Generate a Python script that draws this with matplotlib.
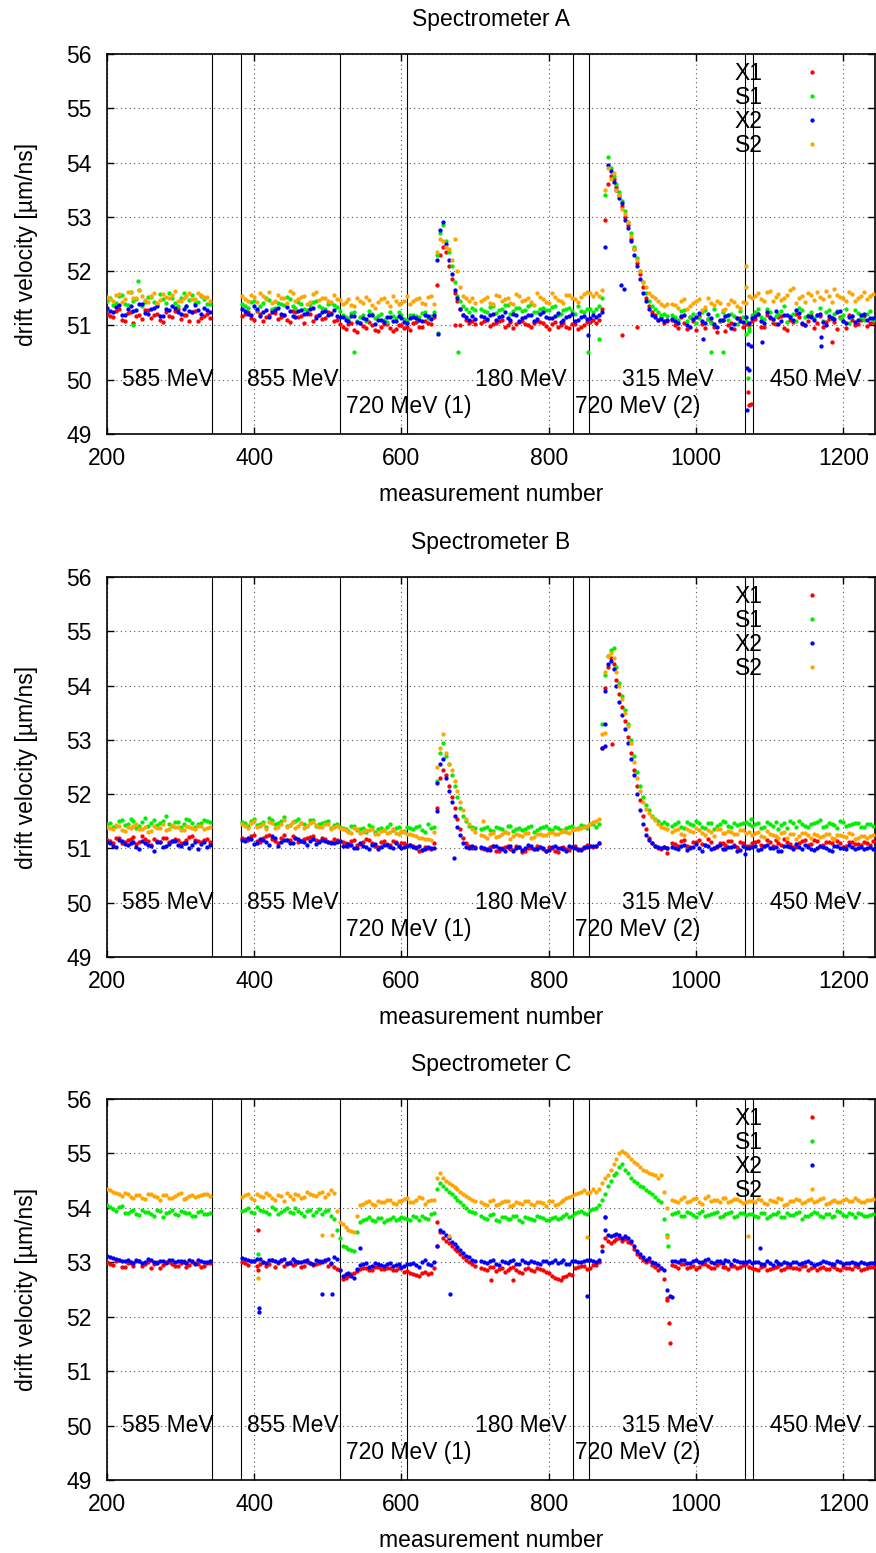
import numpy as np
import matplotlib
matplotlib.use("Agg")
import matplotlib.pyplot as plt

plt.rcParams['font.family'] = ['Liberation Sans', 'DejaVu Sans']

SERIES = ["X1", "S1", "X2", "S2"]
COLORS = ["#ff0000", "#00ee00", "#0000ff", "#ffa500"]
TITLES = ["Spectrometer A", "Spectrometer B", "Spectrometer C"]
# measurement-number segments: start and spacing of the sampled points
SEG_START = [200, 384, 644, 708, 864, 968]
SEG_STEP = [8, 8, 4, 8, 4, 8]
# in-between samples of the flat segments
MID_START = [204, 388, 712, 972]
MID_STEP = 8
BOUNDARIES = [342, 382, 516, 608, 833, 855, 1067, 1077]
BEAM_LABELS = ["585 MeV", "855 MeV", "720 MeV (1)", "180 MeV", "720 MeV (2)", "315 MeV", "450 MeV"]
BEAM_LABEL_X = [220, 390, 525, 700, 836, 900, 1100]
BEAM_LABEL_Y = [50, 50, 49.5, 50, 49.5, 50, 50]
X_TICKS = [200, 400, 600, 800, 1000, 1200]
Y_TICKS = [49, 50, 51, 52, 53, 54, 55, 56]

# ---------------- Spectrometer A ----------------
A_X1 = [
    [51.22, 51.15, 51.30, 51.08, 51.25, 51.18, 51.12, 51.28, 51.20, 51.10, 51.24, 51.16, 51.31, 51.19, 51.09, 51.26, 51.14, 51.21],
    [51.18, 51.25, 51.10, 51.22, 51.15, 51.28, 51.12, 51.20, 51.06, 51.24, 51.17, 51.21, 51.09, 51.19, 51.14, 51.23, 51.11,
     50.98, 51.02, 50.92, 51.05, 50.95, 51.00, 50.90, 51.03, 50.96, 50.93, 51.01, 50.97, 51.05, 50.98, 51.08, 51.02],
    [51.15, 51.75, 52.30, 52.45, 52.35, 52.10, 51.85, 51.60, 51.45, 51.30, 51.20, 51.10, 51.05, 51.08, 51.02],
    [51.05, 51.10, 51.02, 51.08, 50.98, 51.06, 51.03, 51.09, 51.00, 51.04, 51.07, 50.99, 51.03, 50.97, 51.05, 50.95, 51.02, 50.98, 51.06, 51.10],
    [51.05, 51.10, 51.30, 52.95, 53.60, 53.75, 53.70, 53.55, 53.40, 53.20, 53.00, 52.85, 52.60, 52.40, 52.15, 51.95, 51.70, 51.50, 51.35, 51.25, 51.20, 51.10, 51.15, 51.05, 51.08],
    [51.10, 50.95, 51.05, 51.15, 50.92, 51.02, 51.12, 50.98, 51.08, 50.90, 51.04, 51.13, 50.97, 51.00,
     51.12, 50.98, 51.20, 51.05, 51.15, 50.95, 51.10, 51.22, 51.02, 51.08, 50.96, 51.18, 51.06, 51.14, 50.93, 51.09, 51.19, 51.01, 51.11, 50.99, 51.07],
]
A_X1_MID = [
    [51.18, 51.27, 51.11, 51.23, 51.05, 51.19, 51.29, 51.14, 51.22, 51.07, 51.17, 51.26, 51.12, 51.20, 51.24, 51.08, 51.18, 51.13],
    [51.21, 51.13, 51.26, 51.08, 51.19, 51.23, 51.15, 51.10, 51.27, 51.16, 51.05, 51.22, 51.18, 51.12, 51.25, 51.09, 51.02,
     50.94, 51.04, 50.88, 50.99, 51.06, 50.91, 50.97, 51.03, 50.89, 51.00, 50.95, 50.92, 51.06, 50.97, 51.04],
    [51.08, 50.99, 51.05, 51.11, 51.01, 50.96, 51.07, 51.02, 50.98, 51.09, 51.04, 50.94, 51.06, 51.00, 50.97, 51.03, 50.93, 51.01, 51.07],
    [51.00, 51.16, 50.93, 51.09, 51.18, 50.96, 51.06, 50.88, 51.11, 51.01, 50.94, 51.14, 51.03,
     51.08, 51.21, 50.97, 51.13, 51.03, 51.17, 50.91, 51.06, 51.15, 51.00, 51.20, 51.04, 50.98, 51.12, 51.07, 51.16, 50.95, 51.10, 51.02, 51.18, 51.05],
]
A_S1 = [
    [51.45, 51.38, 51.55, 51.40, 51.62, 51.48, 51.35, 51.52, 51.44, 51.58, 51.41, 51.50, 51.36, 51.60, 51.47, 51.42, 51.55, 51.39],
    [51.40, 51.32, 51.45, 51.35, 51.50, 51.30, 51.42, 51.37, 51.48, 51.33, 51.40, 51.28, 51.44, 51.36, 51.31, 51.41, 51.34,
     51.20, 51.12, 51.25, 51.15, 51.08, 51.22, 51.17, 51.10, 51.24, 51.14, 51.19, 51.11, 51.20, 51.15, 51.25, 51.18],
    [51.25, 52.30, 52.70, 52.85, 52.55, 52.35, 52.10, 51.80, 51.55, 51.45, 51.35, 51.30, 51.25, 51.32, 51.28],
    [51.30, 51.25, 51.35, 51.28, 51.38, 51.22, 51.32, 51.27, 51.36, 51.24, 51.31, 51.29, 51.34, 51.20, 51.28, 51.33, 51.22, 51.26, 51.30, 51.24],
    [51.30, 51.35, 51.50, 53.40, 54.10, 53.90, 53.75, 53.60, 53.45, 53.30, 53.10, 52.90, 52.70, 52.45, 52.25, 52.00, 51.80, 51.60, 51.45, 51.35, 51.30, 51.25, 51.20, 51.22, 51.18],
    [51.20, 51.10, 51.28, 51.15, 51.05, 51.25, 51.12, 51.30, 51.08, 51.18, 51.22, 51.02, 51.15, 50.95,
     51.25, 51.15, 51.30, 51.10, 51.22, 51.35, 51.18, 51.08, 51.28, 51.20, 51.14, 51.32, 51.24, 51.12, 51.26, 51.19, 51.05, 51.29, 51.16, 51.21, 51.10],
]
A_S1_MID = [
    [51.50, 51.41, 51.57, 51.37, 51.46, 51.65, 51.43, 51.53, 51.39, 51.48, 51.59, 51.42, 51.51, 51.36, 51.56, 51.44, 51.49, 51.40],
    [51.36, 51.44, 51.29, 51.41, 51.47, 51.33, 51.39, 51.52, 51.35, 51.43, 51.30, 51.38, 51.46, 51.32, 51.40, 51.37, 51.27,
     51.16, 51.23, 51.09, 51.19, 51.27, 51.13, 51.21, 51.06, 51.18, 51.24, 51.12, 51.20, 51.17, 51.23, 51.14],
    [51.27, 51.34, 51.23, 51.31, 51.37, 51.26, 51.33, 51.29, 51.39, 51.25, 51.32, 51.28, 51.35, 51.22, 51.30, 51.27, 51.36, 51.24, 51.31],
    [51.16, 51.26, 51.08, 51.21, 51.13, 51.29, 51.04, 51.19, 51.24, 51.11, 51.17, 51.27, 51.09,
     51.20, 51.31, 51.12, 51.24, 51.17, 51.27, 51.06, 51.22, 51.33, 51.15, 51.25, 51.19, 51.09, 51.28, 51.21, 51.14, 51.30, 51.18, 51.23, 51.11, 51.26],
]
A_X2 = [
    [51.32, 51.25, 51.38, 51.20, 51.35, 51.28, 51.40, 51.22, 51.33, 51.18, 51.30, 51.36, 51.24, 51.31, 51.27, 51.37, 51.21, 51.29],
    [51.30, 51.22, 51.35, 51.18, 51.28, 51.25, 51.32, 51.20, 51.27, 51.15, 51.29, 51.23, 51.33, 51.19, 51.26, 51.21, 51.17,
     51.15, 51.08, 51.18, 51.05, 51.12, 51.20, 51.10, 51.06, 51.16, 51.09, 51.13, 51.04, 51.15, 51.10, 51.20, 51.12],
    [51.20, 52.20, 52.75, 52.90, 52.50, 52.20, 51.95, 51.65, 51.50, 51.30, 51.20, 51.15, 51.10, 51.18, 51.12],
    [51.18, 51.12, 51.22, 51.15, 51.25, 51.10, 51.20, 51.14, 51.19, 51.08, 51.21, 51.16, 51.13, 51.23, 51.11, 51.17, 51.09, 51.15, 51.12, 51.20],
    [51.15, 51.20, 51.25, 52.45, 53.95, 53.85, 53.65, 53.50, 53.35, 53.25, 52.95, 52.80, 52.55, 52.30, 52.10, 51.85, 51.60, 51.45, 51.30, 51.20, 51.15, 51.10, 51.12, 51.08, 51.10],
    [51.12, 51.05, 51.20, 50.98, 51.15, 51.08, 51.22, 51.02, 51.10, 51.18, 50.95, 51.13, 51.06, 51.05,
     51.18, 51.08, 51.25, 51.12, 51.02, 51.20, 51.15, 51.28, 51.05, 51.17, 51.10, 51.22, 51.00, 51.14, 51.24, 51.09, 51.16, 51.06, 51.20, 51.11, 51.13],
]
A_X2_MID = [
    [51.27, 51.34, 51.19, 51.31, 51.26, 51.39, 51.23, 51.30, 51.35, 51.17, 51.28, 51.33, 51.22, 51.36, 51.25, 51.29, 51.32, 51.24],
    [51.26, 51.19, 51.31, 51.24, 51.16, 51.29, 51.22, 51.34, 51.18, 51.27, 51.21, 51.30, 51.14, 51.25, 51.20, 51.28, 51.16,
     51.10, 51.17, 51.07, 51.14, 51.19, 51.03, 51.11, 51.15, 51.08, 51.18, 51.06, 51.13, 51.14, 51.08, 51.17],
    [51.15, 51.20, 51.10, 51.17, 51.13, 51.22, 51.09, 51.16, 51.19, 51.12, 51.24, 51.14, 51.18, 51.07, 51.16, 51.21, 51.11, 51.18, 51.14],
    [51.09, 51.17, 51.01, 51.12, 51.23, 51.04, 51.14, 50.97, 51.11, 51.19, 51.03, 51.08, 51.16,
     51.13, 51.22, 51.04, 51.16, 51.26, 51.08, 51.19, 51.11, 51.23, 51.01, 51.15, 51.20, 51.07, 51.18, 51.12, 51.27, 51.05, 51.17, 51.10, 51.21, 51.14],
]
A_S2 = [
    [51.52, 51.45, 51.58, 51.48, 51.62, 51.50, 51.55, 51.44, 51.60, 51.47, 51.53, 51.57, 51.46, 51.51, 51.59, 51.49, 51.56, 51.52],
    [51.55, 51.45, 51.52, 51.60, 51.48, 51.42, 51.56, 51.50, 51.63, 51.46, 51.53, 51.40, 51.58, 51.47, 51.51, 51.44, 51.49,
     51.40, 51.48, 51.35, 51.45, 51.52, 51.38, 51.44, 51.50, 51.36, 51.46, 51.42, 51.55, 51.45, 51.50, 51.40, 51.55],
    [51.40, 52.35, 52.60, 52.55, 52.45, 52.40, 52.20, 52.60, 52.00, 51.70, 51.55, 51.50, 51.45, 51.50, 51.42],
    [51.45, 51.52, 51.40, 51.55, 51.48, 51.42, 51.58, 51.46, 51.50, 51.38, 51.53, 51.44, 51.60, 51.47, 51.41, 51.56, 51.49, 51.52, 51.62, 51.55],
    [51.60, 51.55, 51.65, 53.50, 53.90, 53.70, 53.80, 53.50, 53.40, 53.15, 53.05, 52.90, 52.65, 52.40, 52.20, 52.00, 51.80, 51.70, 51.60, 51.55, 51.50, 51.45, 51.40, 51.35, 51.40],
    [51.40, 51.32, 51.48, 51.36, 51.45, 51.28, 51.50, 51.38, 51.42, 51.30, 51.47, 51.35, 51.44, 51.55,
     51.55, 51.48, 51.62, 51.45, 51.58, 51.50, 51.66, 51.42, 51.55, 51.60, 51.47, 51.53, 51.64, 51.44, 51.57, 51.50, 51.61, 51.46, 51.54, 51.49, 51.58],
]
A_S2_MID = [
    [51.49, 51.56, 51.43, 51.61, 51.51, 51.65, 51.47, 51.54, 51.42, 51.58, 51.50, 51.63, 51.45, 51.55, 51.48, 51.60, 51.53, 51.46],
    [51.48, 51.57, 51.43, 51.54, 51.62, 51.46, 51.51, 51.41, 51.59, 51.49, 51.55, 51.44, 51.61, 51.50, 51.45, 51.56, 51.47,
     51.44, 51.37, 51.51, 51.41, 51.47, 51.33, 51.49, 51.43, 51.54, 51.39, 51.46, 51.40, 51.48, 51.42, 51.52],
    [51.49, 51.42, 51.56, 51.45, 51.51, 51.39, 51.54, 51.47, 51.43, 51.59, 51.48, 51.41, 51.52, 51.45, 51.57, 51.50, 51.44, 51.58, 51.60],
    [51.37, 51.45, 51.31, 51.42, 51.49, 51.34, 51.41, 51.46, 51.29, 51.39, 51.44, 51.33, 51.42,
     51.51, 51.59, 51.45, 51.63, 51.52, 51.47, 51.57, 51.69, 51.50, 51.43, 51.56, 51.61, 51.48, 51.55, 51.67, 51.52, 51.46, 51.58, 51.51, 51.62, 51.54],
]
# isolated points (measurement number, value, series index)
A_OUT_X = [236, 242, 536, 650, 650, 673, 680, 677, 853, 868, 853, 898, 902, 900, 920, 1020, 1037, 1010, 1090, 1170, 1170, 1185,
           1068, 1068, 1069, 1072, 1069, 1070, 1072, 1074, 1071, 1071, 1074, 1068, 1072]
A_OUT_Y = [51.00, 51.82, 50.52, 50.86, 50.85, 51.00, 51.00, 50.52, 50.52, 50.76, 50.82, 51.75, 51.68, 50.83, 50.97, 50.52, 50.52, 50.75, 50.70, 50.78, 50.63, 50.70,
           52.10, 51.70, 50.22, 50.18, 49.44, 49.78, 49.53, 49.55, 50.03, 50.65, 50.63, 50.85, 50.90]
A_OUT_S = [1, 1, 1, 1, 2, 0, 0, 1, 1, 1, 2, 2, 2, 0, 0, 1, 1, 2, 2, 2, 2, 0,
           3, 3, 2, 2, 2, 0, 0, 0, 1, 2, 2, 1, 1]

# ---------------- Spectrometer B ----------------
B_X1 = [
    [51.15, 51.10, 51.20, 51.12, 51.18, 51.08, 51.22, 51.14, 51.17, 51.11, 51.19, 51.13, 51.16, 51.09, 51.21, 51.15, 51.12, 51.18],
    [51.20, 51.15, 51.25, 51.12, 51.22, 51.18, 51.10, 51.24, 51.16, 51.20, 51.13, 51.19, 51.23, 51.14, 51.17, 51.11, 51.15,
     51.12, 51.05, 51.15, 51.08, 51.18, 51.10, 51.03, 51.14, 51.07, 51.12, 51.09, 51.06, 51.05, 50.95, 51.02, 50.98],
    [51.10, 51.75, 52.30, 52.45, 52.35, 52.15, 51.95, 51.75, 51.55, 51.35, 51.20, 51.10, 51.05, 51.00, 51.02],
    [51.00, 50.97, 51.04, 50.95, 51.02, 50.99, 51.05, 50.93, 51.01, 50.98, 51.03, 50.96, 51.00, 50.94, 51.02, 50.97, 51.04, 50.99, 51.06, 51.02],
    [51.05, 51.10, 52.85, 53.95, 54.35, 54.50, 54.40, 54.10, 53.85, 53.60, 53.35, 53.05, 52.75, 52.45, 52.15, 51.90, 51.60, 51.35, 51.20, 51.10, 51.05, 51.00, 50.98, 51.02, 51.00],
    [51.10, 51.05, 51.15, 51.02, 51.12, 51.08, 51.18, 51.00, 51.10, 51.06, 51.14, 51.03, 51.09, 51.05,
     51.12, 51.06, 51.15, 51.04, 51.10, 51.18, 51.08, 51.02, 51.13, 51.07, 51.16, 51.05, 51.11, 51.09, 51.14, 51.03, 51.12, 51.08, 51.06, 51.10, 51.13],
]
B_X1_MID = [
    [51.13, 51.19, 51.09, 51.16, 51.21, 51.11, 51.17, 51.07, 51.14, 51.20, 51.12, 51.18, 51.10, 51.15, 51.22, 51.13, 51.16, 51.11],
    [51.17, 51.22, 51.13, 51.19, 51.24, 51.14, 51.20, 51.16, 51.23, 51.11, 51.18, 51.21, 51.15, 51.19, 51.12, 51.17, 51.14,
     51.09, 51.13, 51.06, 51.11, 51.16, 51.04, 51.12, 51.08, 51.14, 51.05, 51.10, 51.07, 51.03, 50.97, 51.00],
    [50.99, 51.03, 50.96, 51.01, 51.05, 50.97, 51.02, 50.95, 51.00, 51.04, 50.98, 51.02, 50.96, 51.01, 50.99, 51.03, 50.97, 51.01, 51.04],
    [51.08, 51.13, 51.04, 51.11, 51.16, 51.06, 51.12, 51.02, 51.09, 51.14, 51.07, 51.11, 51.05,
     51.09, 51.14, 51.05, 51.11, 51.16, 51.07, 51.12, 51.03, 51.10, 51.15, 51.08, 51.13, 51.06, 51.11, 51.17, 51.09, 51.04, 51.12, 51.08, 51.11, 51.07],
]
B_S1 = [
    [51.45, 51.40, 51.50, 51.43, 51.55, 51.38, 51.48, 51.42, 51.52, 51.46, 51.60, 51.41, 51.49, 51.44, 51.53, 51.39, 51.47, 51.50],
    [51.48, 51.42, 51.55, 51.45, 51.40, 51.52, 51.47, 51.58, 51.43, 51.50, 51.46, 51.41, 51.53, 51.44, 51.49, 51.38, 51.45,
     51.38, 51.32, 51.42, 51.35, 51.30, 51.40, 51.36, 51.33, 51.44, 51.37, 51.31, 51.39, 51.35, 51.42, 51.30, 51.38],
    [51.40, 52.25, 52.75, 52.95, 52.70, 52.55, 52.35, 52.15, 51.95, 51.75, 51.60, 51.50, 51.42, 51.40, 51.38],
    [51.35, 51.40, 51.32, 51.38, 51.30, 51.42, 51.36, 51.33, 51.39, 51.31, 51.37, 51.41, 51.34, 51.38, 51.32, 51.40, 51.36, 51.43, 51.38, 51.45],
    [51.40, 51.45, 53.30, 54.20, 54.55, 54.65, 54.70, 54.35, 54.05, 53.80, 53.55, 53.30, 53.00, 52.70, 52.40, 52.15, 51.95, 51.80, 51.70, 51.60, 51.55, 51.50, 51.45, 51.48, 51.45],
    [51.42, 51.48, 51.38, 51.45, 51.50, 51.40, 51.46, 51.35, 51.44, 51.49, 51.39, 51.43, 51.47, 51.45,
     51.44, 51.38, 51.48, 51.42, 51.36, 51.46, 51.50, 51.40, 51.45, 51.39, 51.47, 51.52, 51.41, 51.44, 51.37, 51.49, 51.43, 51.46, 51.40, 51.45, 51.42],
]
B_S1_MID = [
    [51.47, 51.42, 51.53, 51.44, 51.50, 51.41, 51.56, 51.46, 51.43, 51.51, 51.45, 51.49, 51.40, 51.54, 51.47, 51.44, 51.52, 51.48],
    [51.46, 51.51, 51.43, 51.49, 51.56, 51.44, 51.50, 51.41, 51.48, 51.54, 51.45, 51.52, 51.42, 51.47, 51.51, 51.43, 51.40,
     51.36, 51.41, 51.33, 51.38, 51.43, 51.31, 51.37, 51.40, 51.34, 51.39, 51.32, 51.38, 51.40, 51.34, 51.44],
    [51.37, 51.33, 51.40, 51.35, 51.42, 51.32, 51.38, 51.36, 51.41, 51.34, 51.39, 51.35, 51.40, 51.33, 51.38, 51.42, 51.37, 51.41, 51.44],
    [51.45, 51.40, 51.49, 51.43, 51.47, 51.38, 51.46, 51.42, 51.50, 51.41, 51.46, 51.44, 51.48,
     51.41, 51.47, 51.39, 51.45, 51.49, 51.43, 51.38, 51.46, 51.51, 51.42, 51.44, 51.48, 51.40, 51.46, 51.43, 51.50, 51.41, 51.45, 51.47, 51.39, 51.44],
]
B_X2 = [
    [51.12, 51.05, 51.15, 51.08, 51.10, 51.02, 51.14, 51.07, 50.95, 51.11, 51.04, 51.13, 51.06, 51.09, 51.01, 51.12, 51.08, 51.03],
    [51.15, 51.20, 51.08, 51.18, 51.12, 51.22, 51.05, 51.16, 51.10, 51.19, 51.13, 51.07, 51.17, 51.11, 51.14, 51.09, 51.12,
     51.05, 51.08, 51.00, 51.10, 51.03, 51.06, 50.98, 51.07, 51.02, 51.09, 51.01, 51.04, 51.02, 51.05, 50.98, 51.00],
    [51.00, 52.20, 52.55, 52.65, 52.30, 52.05, 51.85, 51.60, 51.40, 51.25, 51.10, 51.02, 51.00, 51.05, 51.00],
    [51.02, 50.98, 51.05, 51.00, 50.95, 51.04, 51.01, 50.97, 51.06, 50.99, 51.03, 50.96, 51.02, 51.00, 50.98, 51.05, 51.01, 50.97, 51.03, 51.05],
    [51.05, 51.10, 52.85, 53.90, 54.40, 54.45, 54.30, 54.00, 53.70, 53.45, 53.20, 52.95, 52.65, 52.35, 52.00, 51.70, 51.45, 51.25, 51.15, 51.10, 51.05, 51.02, 51.00, 51.03, 51.00],
    [51.03, 50.98, 51.06, 51.00, 51.08, 50.96, 51.04, 51.01, 51.07, 50.99, 51.02, 50.95, 51.05, 51.00,
     51.04, 50.98, 51.06, 51.00, 50.96, 51.05, 51.02, 51.08, 50.99, 51.03, 50.97, 51.05, 51.01, 50.95, 51.04, 51.00, 51.06, 50.98, 51.02, 51.01, 50.99],
]
B_X2_MID = [
    [51.09, 51.03, 51.13, 51.06, 51.11, 50.99, 51.10, 51.05, 51.12, 51.02, 51.08, 51.14, 51.04, 51.10, 51.07, 50.98, 51.11, 51.06],
    [51.13, 51.18, 51.10, 51.16, 51.07, 51.19, 51.12, 51.15, 51.09, 51.17, 51.11, 51.14, 51.08, 51.16, 51.12, 51.10, 51.13,
     51.04, 51.07, 51.01, 51.05, 50.99, 51.08, 51.03, 51.06, 51.00, 51.05, 51.02, 51.06, 51.01, 50.97, 51.03],
    [51.01, 50.97, 51.04, 50.99, 51.03, 50.96, 51.02, 51.00, 51.05, 50.98, 51.01, 50.97, 51.04, 51.00, 50.96, 51.03, 50.99, 51.02, 51.04],
    [51.01, 51.05, 50.97, 51.03, 51.00, 51.06, 50.98, 51.04, 50.99, 51.02, 51.05, 50.97, 51.01,
     51.02, 50.97, 51.05, 51.00, 51.03, 50.96, 51.04, 50.99, 51.02, 51.06, 50.98, 51.01, 51.03, 50.97, 51.05, 51.00, 50.98, 51.03, 51.01, 50.99, 51.02],
]
B_S2 = [
    [51.40, 51.35, 51.42, 51.32, 51.38, 51.45, 51.36, 51.30, 51.41, 51.37, 51.34, 51.43, 51.39, 51.33, 51.40, 51.36, 51.42, 51.38],
    [51.45, 51.38, 51.50, 51.42, 51.35, 51.47, 51.40, 51.52, 51.43, 51.37, 51.46, 51.41, 51.48, 51.39, 51.44, 51.36, 51.42,
     51.35, 51.30, 51.38, 51.28, 51.33, 51.36, 51.27, 51.34, 51.31, 51.29, 51.32, 51.26, 51.25, 51.20, 51.18, 51.15],
    [51.30, 52.50, 52.85, 53.10, 52.75, 52.55, 52.45, 52.25, 52.05, 51.85, 51.70, 51.55, 51.45, 51.35, 51.30],
    [51.25, 51.20, 51.28, 51.22, 51.30, 51.18, 51.26, 51.23, 51.29, 51.21, 51.27, 51.24, 51.30, 51.26, 51.33, 51.28, 51.35, 51.38, 51.42, 51.48],
    [51.50, 51.55, 53.10, 54.25, 54.55, 54.60, 54.50, 54.25, 54.00, 53.75, 53.50, 53.25, 52.95, 52.60, 52.30, 52.05, 51.85, 51.72, 51.65, 51.58, 51.52, 51.45, 51.40, 51.38, 51.35],
    [51.30, 51.35, 51.25, 51.32, 51.38, 51.28, 51.33, 51.22, 51.36, 51.29, 51.31, 51.26, 51.34, 51.30,
     51.28, 51.22, 51.32, 51.25, 51.20, 51.30, 51.26, 51.18, 51.29, 51.24, 51.27, 51.21, 51.26, 51.19, 51.25, 51.22, 51.28, 51.18, 51.23, 51.20, 51.24],
]
B_S2_MID = [
    [51.37, 51.43, 51.33, 51.39, 51.41, 51.35, 51.40, 51.32, 51.38, 51.44, 51.36, 51.39, 51.34, 51.41, 51.37, 51.42, 51.35, 51.40],
    [51.41, 51.47, 51.39, 51.44, 51.49, 51.37, 51.45, 51.40, 51.48, 51.42, 51.38, 51.46, 51.43, 51.40, 51.45, 51.39, 51.37,
     51.33, 51.28, 51.36, 51.30, 51.34, 51.27, 51.32, 51.29, 51.35, 51.26, 51.30, 51.27, 51.22, 51.19, 51.17],
    [51.23, 51.27, 51.21, 51.26, 51.29, 51.22, 51.25, 51.28, 51.20, 51.26, 51.24, 51.29, 51.27, 51.31, 51.30, 51.33, 51.36, 51.40, 51.45],
    [51.33, 51.27, 51.36, 51.30, 51.34, 51.25, 51.31, 51.35, 51.28, 51.32, 51.27, 51.33, 51.29,
     51.25, 51.30, 51.21, 51.27, 51.23, 51.29, 51.19, 51.26, 51.22, 51.28, 51.20, 51.25, 51.23, 51.27, 51.18, 51.24, 51.21, 51.26, 51.19, 51.23, 51.22],
]
B_OUT_X = [648, 671, 886, 876, 876, 876, 1067, 1075, 960, 711]
B_OUT_Y = [51.68, 50.83, 52.93, 52.88, 53.30, 53.13, 50.90, 51.55, 50.92, 51.50]
B_OUT_S = [2, 2, 0, 2, 2, 3, 2, 1, 0, 3]

# ---------------- Spectrometer C ----------------
C_X1 = [
    [53.00, 52.95, 53.05, 52.92, 52.98, 53.02, 52.94, 53.00, 52.96, 52.90, 53.01, 52.97, 52.93, 53.03, 52.95, 52.99, 52.92, 52.98],
    [53.00, 52.95, 53.02, 52.97, 52.93, 53.04, 52.98, 52.94, 53.01, 52.96, 52.92, 53.00, 52.95, 52.99, 53.03, 52.97, 52.88,
     52.70, 52.75, 52.80, 52.88, 52.90, 52.85, 52.92, 52.88, 52.90, 52.86, 52.89, 52.84, 52.78, 52.75, 52.82, 52.80],
    [52.90, 53.30, 53.55, 53.45, 53.40, 53.35, 53.30, 53.25, 53.20, 53.15, 53.10, 53.05, 53.00, 52.97, 52.93],
    [52.90, 52.85, 52.92, 52.88, 52.83, 52.90, 52.86, 52.80, 52.89, 52.84, 52.87, 52.82, 52.75, 52.70, 52.73, 52.78, 52.90, 52.93, 52.88, 52.95],
    [52.95, 53.00, 53.30, 53.45, 53.40, 53.35, 53.40, 53.42, 53.45, 53.40, 53.42, 53.38, 53.35, 53.25, 53.15, 53.10, 53.05, 53.00, 53.02, 52.95, 52.92, 52.85, 52.90, 52.70, 52.30],
    [52.95, 52.90, 52.97, 52.92, 52.88, 52.96, 52.93, 52.90, 52.98, 52.91, 52.94, 52.89, 52.95, 52.92,
     52.88, 52.92, 52.85, 52.90, 52.94, 52.87, 52.91, 52.89, 52.93, 52.86, 52.92, 52.90, 52.88, 52.94, 52.87, 52.91, 52.89, 52.93, 52.86, 52.90, 52.92],
]
C_X1_MID = [
    [52.97, 53.03, 52.91, 52.99, 52.94, 53.02, 52.96, 52.89, 53.00, 52.95, 53.01, 52.93, 52.98, 52.92, 53.00, 52.96, 52.94, 52.99],
    [52.98, 53.02, 52.94, 53.00, 52.96, 52.91, 53.03, 52.97, 52.95, 53.01, 52.93, 52.99, 52.96, 53.02, 52.94, 52.92, 52.85,
     52.72, 52.78, 52.84, 52.90, 52.86, 52.91, 52.87, 52.89, 52.85, 52.90, 52.83, 52.80, 52.76, 52.81, 52.78],
    [52.88, 52.92, 52.84, 52.89, 52.86, 52.91, 52.83, 52.88, 52.85, 52.90, 52.86, 52.81, 52.72, 52.68, 52.74, 52.76, 52.91, 52.94, 52.90],
    [52.93, 52.97, 52.89, 52.94, 52.91, 52.96, 52.90, 52.95, 52.92, 52.88, 52.94, 52.91, 52.96,
     52.90, 52.86, 52.93, 52.88, 52.91, 52.85, 52.92, 52.89, 52.87, 52.93, 52.90, 52.86, 52.91, 52.88, 52.92, 52.85, 52.90, 52.88, 52.92, 52.87, 52.91],
]
C_S1 = [
    [54.05, 53.98, 54.02, 53.90, 53.95, 53.88, 53.97, 53.92, 53.85, 53.94, 53.90, 53.96, 53.87, 53.93, 53.91, 53.86, 53.94, 53.89],
    [53.95, 54.00, 53.90, 53.97, 53.92, 54.02, 53.88, 53.96, 53.93, 53.99, 53.91, 53.95, 53.87, 53.98, 53.94, 53.85, 53.60,
     53.30, 53.25, 53.20, 53.75, 53.80, 53.78, 53.82, 53.75, 53.80, 53.77, 53.83, 53.80, 53.85, 53.78, 53.82, 53.88],
    [53.90, 54.35, 54.45, 54.40, 54.35, 54.30, 54.25, 54.20, 54.15, 54.10, 54.05, 54.00, 53.95, 53.92, 53.90],
    [53.85, 53.80, 53.88, 53.76, 53.83, 53.79, 53.86, 53.74, 53.81, 53.78, 53.84, 53.77, 53.82, 53.80, 53.86, 53.83, 53.90, 53.95, 53.88, 53.98],
    [54.00, 54.05, 54.15, 54.25, 54.40, 54.50, 54.60, 54.65, 54.75, 54.80, 54.70, 54.65, 54.55, 54.50, 54.45, 54.40, 54.38, 54.32, 54.30, 54.25, 54.20, 54.15, 54.10, 53.80, 53.50],
    [53.88, 53.92, 53.85, 53.90, 53.83, 53.95, 53.87, 53.91, 53.84, 53.89, 53.93, 53.86, 53.90, 53.88,
     53.85, 53.90, 53.82, 53.88, 53.93, 53.84, 53.87, 53.91, 53.80, 53.86, 53.92, 53.85, 53.89, 53.83, 53.94, 53.87, 53.90, 53.84, 53.88, 53.86, 53.89],
]
C_S1_MID = [
    [54.01, 53.95, 54.03, 53.91, 53.97, 53.87, 53.93, 53.89, 53.96, 53.84, 53.92, 53.88, 53.95, 53.90, 53.86, 53.93, 53.88, 53.91],
    [53.97, 53.92, 54.01, 53.94, 53.89, 53.98, 53.93, 53.99, 53.90, 53.95, 53.86, 53.96, 53.92, 53.89, 53.97, 53.80, 53.45,
     53.28, 53.22, 53.55, 53.78, 53.83, 53.76, 53.81, 53.78, 53.84, 53.79, 53.82, 53.77, 53.83, 53.86, 53.80],
    [53.82, 53.87, 53.78, 53.84, 53.80, 53.85, 53.77, 53.83, 53.79, 53.86, 53.81, 53.78, 53.84, 53.82, 53.88, 53.85, 53.92, 53.90, 53.96],
    [53.90, 53.86, 53.93, 53.87, 53.91, 53.85, 53.89, 53.92, 53.86, 53.90, 53.84, 53.91, 53.87,
     53.88, 53.84, 53.91, 53.86, 53.89, 53.83, 53.90, 53.87, 53.92, 53.85, 53.88, 53.91, 53.84, 53.89, 53.86, 53.92, 53.85, 53.88, 53.90, 53.86, 53.87],
]
C_X2 = [
    [53.12, 53.08, 53.05, 53.02, 53.00, 53.04, 52.98, 53.06, 53.01, 53.03, 52.99, 53.05, 53.02, 53.00, 53.04, 52.97, 53.03, 53.01],
    [53.08, 53.05, 53.02, 53.06, 52.98, 53.04, 53.01, 53.07, 52.99, 53.03, 53.00, 53.05, 52.96, 53.02, 53.04, 52.98, 53.06,
     52.75, 52.80, 52.72, 52.95, 52.98, 52.93, 52.97, 52.94, 52.99, 52.95, 52.92, 52.96, 52.98, 52.92, 53.05, 52.95],
    [53.00, 53.30, 53.60, 53.55, 53.50, 53.45, 53.38, 53.33, 53.28, 53.22, 53.18, 53.12, 53.10, 53.05, 53.02],
    [53.02, 52.98, 53.05, 52.95, 53.00, 53.03, 52.97, 53.04, 52.99, 53.01, 52.96, 53.03, 53.00, 52.98, 53.05, 52.97, 53.02, 53.00, 53.04, 53.03],
    [53.00, 53.05, 53.20, 53.60, 53.50, 53.48, 53.50, 53.52, 53.50, 53.45, 53.48, 53.45, 53.40, 53.30, 53.20, 53.15, 53.10, 53.05, 53.08, 53.00, 52.98, 52.95, 52.90, 52.85, 52.50],
    [53.03, 53.00, 53.05, 52.98, 53.04, 53.01, 53.06, 52.99, 53.02, 53.04, 52.97, 53.03, 53.00, 53.02,
     53.00, 52.97, 53.02, 52.95, 52.99, 53.01, 52.96, 53.00, 52.98, 53.03, 52.95, 52.99, 53.00, 52.97, 53.02, 52.96, 52.99, 52.98, 53.01, 52.97, 52.99],
]
C_X2_MID = [
    [53.10, 53.06, 53.03, 53.05, 52.99, 53.03, 53.01, 53.04, 52.98, 53.02, 53.05, 53.00, 53.03, 52.99, 53.02, 53.04, 53.00, 53.02],
    [53.06, 53.03, 53.07, 53.00, 53.05, 53.02, 53.04, 52.98, 53.06, 53.01, 53.03, 52.99, 53.04, 53.01, 53.07, 53.10, 52.85,
     52.78, 52.74, 52.88, 52.96, 52.92, 52.98, 52.95, 52.97, 52.93, 52.96, 52.94, 52.97, 52.95, 53.00, 52.97],
    [53.00, 53.03, 52.97, 53.02, 52.99, 53.04, 52.96, 53.01, 53.03, 52.98, 53.02, 52.99, 53.04, 53.00, 52.97, 53.03, 53.01, 53.02, 53.04],
    [53.02, 53.05, 52.99, 53.03, 53.01, 53.04, 53.00, 53.03, 52.98, 53.02, 53.05, 53.00, 53.01,
     52.98, 53.01, 52.96, 52.99, 53.02, 52.97, 52.99, 53.00, 52.96, 53.01, 52.98, 52.97, 53.02, 52.99, 52.96, 53.00, 52.98, 53.01, 52.97, 52.99, 52.98],
]
C_S2 = [
    [54.35, 54.30, 54.25, 54.28, 54.20, 54.24, 54.18, 54.26, 54.21, 54.15, 54.23, 54.19, 54.25, 54.17, 54.22, 54.20, 54.24, 54.26],
    [54.20, 54.25, 54.15, 54.22, 54.28, 54.18, 54.24, 54.12, 54.21, 54.26, 54.19, 54.30, 54.23, 54.27, 54.20, 54.32, 53.95,
     53.70, 53.60, 53.55, 54.05, 54.10, 54.08, 54.12, 54.10, 54.15, 54.08, 54.12, 54.18, 54.10, 54.20, 54.08, 54.15],
    [54.15, 54.55, 54.65, 54.55, 54.50, 54.45, 54.42, 54.38, 54.35, 54.30, 54.25, 54.22, 54.18, 54.15, 54.12],
    [54.10, 54.05, 54.14, 54.08, 54.12, 54.03, 54.11, 54.07, 54.13, 54.06, 54.10, 54.04, 54.12, 54.08, 54.15, 54.20, 54.25, 54.30, 54.28, 54.35],
    [54.30, 54.35, 54.45, 54.55, 54.60, 54.70, 54.80, 54.90, 55.00, 55.05, 55.00, 54.95, 54.90, 54.85, 54.80, 54.75, 54.70, 54.68, 54.65, 54.62, 54.60, 54.55, 54.60, 54.30, 54.00],
    [54.15, 54.10, 54.20, 54.12, 54.18, 54.08, 54.22, 54.14, 54.11, 54.19, 54.13, 54.17, 54.09, 54.12,
     54.10, 54.15, 54.08, 54.13, 54.18, 54.06, 54.12, 54.16, 54.09, 54.14, 54.11, 54.17, 54.07, 54.13, 54.10, 54.15, 54.12, 54.19, 54.11, 54.14, 54.16],
]
C_S2_MID = [
    [54.32, 54.27, 54.22, 54.26, 54.19, 54.23, 54.16, 54.25, 54.20, 54.24, 54.18, 54.22, 54.27, 54.19, 54.23, 54.21, 54.25, 54.22],
    [54.23, 54.18, 54.26, 54.20, 54.24, 54.14, 54.22, 54.27, 54.17, 54.23, 54.20, 54.26, 54.21, 54.29, 54.25, 54.28, 53.75,
     53.65, 53.58, 53.85, 54.08, 54.12, 54.06, 54.11, 54.14, 54.09, 54.13, 54.16, 54.11, 54.14, 54.19, 54.12],
    [54.08, 54.12, 54.06, 54.10, 54.13, 54.05, 54.09, 54.12, 54.07, 54.11, 54.09, 54.13, 54.06, 54.10, 54.18, 54.22, 54.27, 54.32, 54.30],
    [54.13, 54.17, 54.10, 54.16, 54.11, 54.19, 54.12, 54.15, 54.18, 54.10, 54.16, 54.13, 54.11,
     54.12, 54.16, 54.09, 54.14, 54.11, 54.17, 54.08, 54.13, 54.15, 54.10, 54.16, 54.12, 54.18, 54.09, 54.14, 54.11, 54.17, 54.13, 54.15, 54.10, 54.14],
]
C_OUT_X = [405, 405, 405, 405, 406, 406, 492, 505, 492, 505, 544, 666, 664, 648, 721, 752, 961, 963, 964, 965, 968, 961, 962, 852, 852, 1070, 1087, 876, 876]
C_OUT_Y = [53.60, 52.85, 53.15, 52.72, 52.16, 52.08, 53.50, 53.50, 52.41, 52.41, 53.26, 52.41, 53.48, 53.75, 52.67, 52.67, 52.34, 51.88, 51.52, 52.39, 52.36, 53.47, 53.30, 53.47, 52.39, 53.49, 53.26, 53.84, 53.84]
C_OUT_S = [0, 0, 1, 3, 2, 2, 3, 3, 2, 2, 2, 2, 3, 0, 0, 0, 0, 0, 0, 2, 2, 3, 1, 3, 2, 3, 2, 0, 2]

PANELS = [
    ([A_X1, A_S1, A_X2, A_S2], [A_X1_MID, A_S1_MID, A_X2_MID, A_S2_MID], A_OUT_X, A_OUT_Y, A_OUT_S),
    ([B_X1, B_S1, B_X2, B_S2], [B_X1_MID, B_S1_MID, B_X2_MID, B_S2_MID], B_OUT_X, B_OUT_Y, B_OUT_S),
    ([C_X1, C_S1, C_X2, C_S2], [C_X1_MID, C_S1_MID, C_X2_MID, C_S2_MID], C_OUT_X, C_OUT_Y, C_OUT_S),
]

FS = 16.5
fig = plt.figure(figsize=(8.76, 15.53), dpi=100)
rects = [[0.1221, 0.7205, 0.8767, 0.2447],
         [0.1221, 0.3838, 0.8767, 0.2447],
         [0.1221, 0.0470, 0.8767, 0.2453]]

for rect, title, panel in zip(rects, TITLES, PANELS):
    ax = fig.add_axes(rect)
    series_list, mid_list, ox, oy, os_ = panel
    for i, (name, color, segs, mids) in enumerate(zip(SERIES, COLORS, series_list, mid_list)):
        xs, ys = [], []
        for start, step, vals in zip(SEG_START, SEG_STEP, segs):
            xs.append(start + step * np.arange(len(vals)))
            ys.append(np.asarray(vals, dtype=float))
        for start, vals in zip(MID_START, mids):
            xs.append(start + MID_STEP * np.arange(len(vals)))
            ys.append(np.asarray(vals, dtype=float))
        xs.append(np.array([x for x, s in zip(ox, os_) if s == i], dtype=float))
        ys.append(np.array([y for y, s in zip(oy, os_) if s == i], dtype=float))
        xs = np.concatenate(xs)
        ys = np.concatenate(ys)
        ax.plot(xs, ys, linestyle='none', marker='o', markersize=3.1,
                markeredgewidth=0, color=color, label=name, zorder=3 + i)
    for b in BOUNDARIES:
        ax.axvline(b, color='black', lw=0.8, zorder=2)
    for lab, lx, ly in zip(BEAM_LABELS, BEAM_LABEL_X, BEAM_LABEL_Y):
        ax.text(lx, ly, lab, fontsize=FS, ha='left', va='center', zorder=2.5)
    ax.set_xlim(200, 1243)
    ax.set_ylim(49, 56)
    ax.set_xticks(X_TICKS)
    ax.set_yticks(Y_TICKS)
    ax.grid(True, color='0.35', linestyle=(0, (1, 3)), lw=0.8, zorder=1)
    ax.set_axisbelow(True)
    ax.tick_params(direction='in', length=5, width=1, top=True, right=True,
                   labelsize=FS)
    ax.tick_params(axis='x', pad=9.5)
    ax.tick_params(axis='y', pad=11)
    for sp in ax.spines.values():
        sp.set_linewidth(1.2)
    ax.set_title(title, fontsize=FS, pad=20)
    ax.set_xlabel("measurement number", fontsize=FS, labelpad=9.5)
    ax.set_ylabel("drift velocity [µm/ns]", fontsize=FS, labelpad=20.5)
    leg = ax.legend(loc='upper right', bbox_to_anchor=(0.9596, 0.978), frameon=False,
                    markerfirst=False, fontsize=FS, numpoints=1, handlelength=2.8,
                    handletextpad=0.75, labelspacing=0.04, borderpad=0, borderaxespad=0)
    leg.set_zorder(1.5)

fig.savefig("out.png", dpi=100)
